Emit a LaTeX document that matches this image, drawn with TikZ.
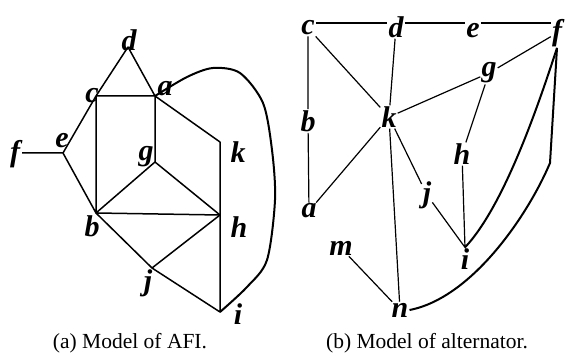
\documentclass[tikz,border=0pt]{standalone}
\usepackage{fontspec}
\setmainfont{Liberation Serif}
\usetikzlibrary{calc}

\begin{document}
\begin{tikzpicture}[x=1pt,y=-1pt,
    lbl/.style={font=\fontsize{30}{32}\selectfont\bfseries\itshape,inner sep=0pt},
    vtx/.style={font=\fontsize{30}{32}\selectfont\bfseries\itshape,inner sep=1pt},
    subcap/.style={font=\fontsize{21.5}{24}\selectfont,anchor=base},
    edge/.style={line width=1.5pt,line join=round},
    link/.style={line width=1.2pt},
    curve/.style={line width=2pt,line join=round}]
  \useasboundingbox (0,0) rectangle (566,363);

  \coordinate (va) at (155,96);
  \coordinate (vb) at (96,213);
  \coordinate (vc) at (96,96);
  \coordinate (vd) at (128,47);
  \coordinate (ve) at (63,153);
  \coordinate (vf) at (22,153);
  \coordinate (vg) at (155,162);
  \coordinate (vh) at (220,215);
  \coordinate (vi) at (220,312);
  \coordinate (vj) at (152,268);
  \coordinate (vk) at (220,142);
  \node[lbl] (la) at (165,89) {a};
  \node[lbl] (lb) at (92,226) {b};
  \node[lbl] (lc) at (92,96) {c};
  \node[lbl] (ld) at (129,40) {d};
  \node[lbl] (le) at (62,141) {e};
  \node[lbl] (lf) at (15,154) {f};
  \node[lbl] (lg) at (146,157) {g};
  \node[lbl] (lh) at (239,227) {h};
  \node[lbl] (li) at (238,314) {i};
  \node[lbl] (lj) at (148,283) {j};
  \node[lbl] (lk) at (238,152) {k};
  \draw[edge] (vf) -- (ve) -- (vc) -- (vd) -- (va) -- (vc) -- (vb) -- (ve);
  \draw[edge] (va) -- (vg) -- (vb) -- (vh) -- (vg);
  \draw[edge] (va) -- (vk) -- (vh) -- (vi) -- (vj) -- (vb);
  \draw[edge] (vj) -- (vh);
  \draw[curve] plot[smooth] coordinates {(va) (187,77) (213,68) (240,73) (263,103) (272,150) (275,200) (267,260) (247,287) (vi)};
  \node[subcap] (capa) at (130,349) {(a) Model of AFI.};

  \node[vtx] (na) at (309,211) {a};
  \node[vtx] (nb) at (308,121) {b};
  \node[vtx] (nc) at (308,28) {c};
  \node[vtx] (nd) at (396,27) {d};
  \node[vtx] (ne) at (473,31) {e};
  \node[vtx] (nf) at (557,33) {f};
  \node[vtx] (ng) at (489,73) {g};
  \node[vtx] (nh) at (462,154) {h};
  \node[vtx] (ni) at (465,259) {i};
  \node[vtx] (nj) at (427,195) {j};
  \node[vtx] (nk) at (389,117) {k};
  \node[vtx] (nm) at (341,248) {m};
  \node[vtx] (nn) at (400,310) {n};
  \coordinate (top) at (0,23);
  \coordinate (fbend) at (550,163);
  \draw[link] (nc.east |- top) -- (nd.west |- top)
              (nd.east |- top) -- (ne.west |- top)
              (ne.east |- top) -- (nf.west |- top);
  \draw[link] (nc) -- (nb) -- (na);
  \draw[link] (nc) -- (nk) -- (nd);
  \draw[link] (na) -- (nk) -- (ng) -- (nf);
  \draw[link] (nk) -- (nj) -- (ni.north) -- (nh) -- (ng);
  \draw[link] (nk) -- (nn) -- (nm);
  \draw[curve] (ni.north) .. controls (505,205) and (540,100) .. (nf.south);
  \draw[curve] (nf.south) -- (fbend) .. controls (528,215) and (472,298) .. (nn.east);
  \node[subcap] (capb) at (427,349) {(b) Model of alternator.};
\end{tikzpicture}
\end{document}
